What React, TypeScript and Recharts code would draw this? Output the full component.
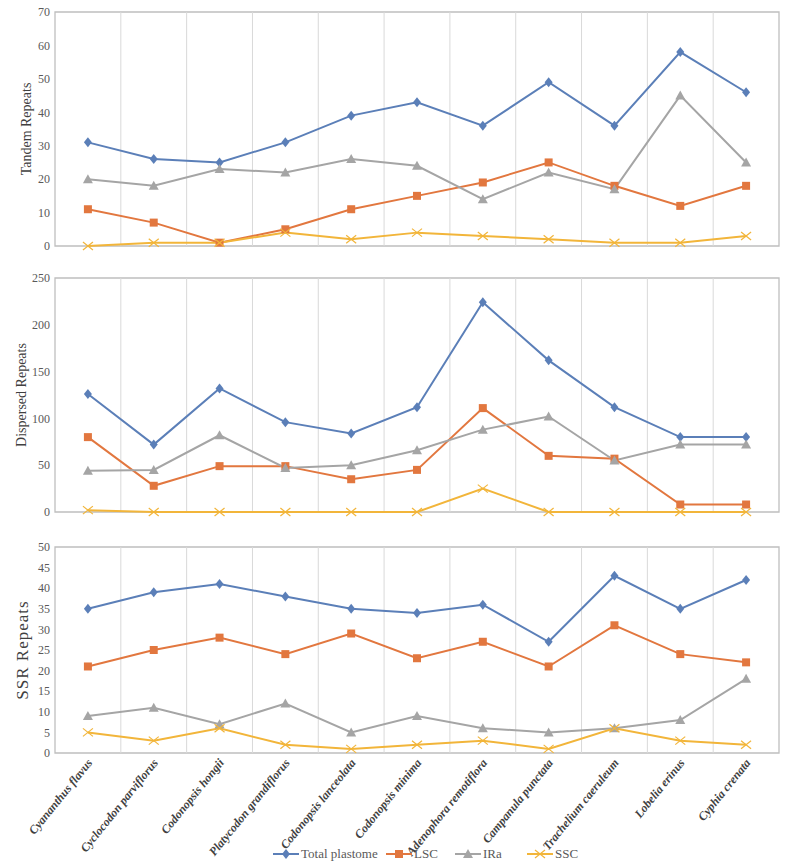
import { LineChart, Line, XAxis, YAxis, ReferenceLine, ReferenceArea, Legend } from "recharts"

const species = [
  "Cyananthus flavus",
  "Cyclocodon parviflorus",
  "Codonopsis hongii",
  "Platycodon grandiflorus",
  "Codonopsis lanceolata",
  "Codonopsis minima",
  "Adenophora remotiflora",
  "Campanula punctata",
  "Trachelium caeruleum",
  "Lobelia erinus",
  "Cyphia crenata",
]

// Tandem repeats
const tandemTotal = [31, 26, 25, 31, 39, 43, 36, 49, 36, 58, 46]
const tandemLSC = [11, 7, 1, 5, 11, 15, 19, 25, 18, 12, 18]
const tandemIRa = [20, 18, 23, 22, 26, 24, 14, 22, 17, 45, 25]
const tandemSSC = [0, 1, 1, 4, 2, 4, 3, 2, 1, 1, 3]

// Dispersed repeats
const dispTotal = [126, 72, 132, 96, 84, 112, 224, 162, 112, 80, 80]
const dispLSC = [80, 28, 49, 49, 35, 45, 111, 60, 57, 8, 8]
const dispIRa = [44, 45, 82, 47, 50, 66, 88, 102, 55, 72, 72]
const dispSSC = [2, 0, 0, 0, 0, 0, 25, 0, 0, 0, 0]

// SSR repeats
const ssrTotal = [35, 39, 41, 38, 35, 34, 36, 27, 43, 35, 42]
const ssrLSC = [21, 25, 28, 24, 29, 23, 27, 21, 31, 24, 22]
const ssrIRa = [9, 11, 7, 12, 5, 9, 6, 5, 6, 8, 18]
const ssrSSC = [5, 3, 6, 2, 1, 2, 3, 1, 6, 3, 2]

const tandemTicks = [0, 10, 20, 30, 40, 50, 60, 70]
const dispTicks = [0, 50, 100, 150, 200, 250]
const ssrTicks = [0, 5, 10, 15, 20, 25, 30, 35, 40, 45, 50]

const series = [
  { key: "total", name: "Total plastome", color: "#5b7fb8", marker: "diamond" },
  { key: "lsc", name: "LSC", color: "#e2773f", marker: "square" },
  { key: "ira", name: "IRa", color: "#a5a5a5", marker: "triangle" },
  { key: "ssc", name: "SSC", color: "#f2b53a", marker: "cross" },
]

const FONT = "Liberation Serif, serif"
const idxTicks = species.map((_, i) => i)
const bounds = species.slice(1).map((_, i) => i + 0.5)

const build = (t: number[], l: number[], r: number[], s: number[]) =>
  species.map((name, i) => ({ idx: i, name, total: t[i], lsc: l[i], ira: r[i], ssc: s[i] }))

const tandemData = build(tandemTotal, tandemLSC, tandemIRa, tandemSSC)
const dispData = build(dispTotal, dispLSC, dispIRa, dispSSC)
const ssrData = build(ssrTotal, ssrLSC, ssrIRa, ssrSSC)

const Marker = ({ kind, cx, cy, color }: any) => {
  if (kind === "diamond")
    return <polygon points={`${cx},${cy - 5} ${cx + 4},${cy} ${cx},${cy + 5} ${cx - 4},${cy}`} fill={color} />
  if (kind === "square") return <rect x={cx - 4} y={cy - 4} width={8} height={8} fill={color} />
  if (kind === "triangle")
    return <polygon points={`${cx},${cy - 5} ${cx + 5},${cy + 4} ${cx - 5},${cy + 4}`} fill={color} />
  return (
    <g stroke={color} strokeWidth={1.2}>
      <line x1={cx - 5} y1={cy - 4} x2={cx + 5} y2={cy + 4} />
      <line x1={cx - 5} y1={cy + 4} x2={cx + 5} y2={cy - 4} />
    </g>
  )
}

const makeDot = (kind: string, color: string) => (props: any) => (
  <Marker key={`${kind}-${props.index}`} kind={kind} cx={props.cx} cy={props.cy} color={color} />
)

const SpeciesTick = ({ x, y, payload }: any) => (
  <g transform={`translate(${x + 5},${y + 8}) rotate(-51)`}>
    <text
      x={0}
      y={0}
      textAnchor="end"
      fontFamily={FONT}
      fontSize={12}
      fontWeight="bold"
      fontStyle="italic"
      fill="#404040"
    >
      {species[payload.value]}
    </text>
  </g>
)

const YLabel = ({ viewBox, value, size, dx, spacing }: any) => {
  const cx = viewBox.x + viewBox.width / 2 + dx
  const cy = viewBox.y + viewBox.height / 2
  return (
    <text
      x={cx}
      y={cy}
      transform={`rotate(-90, ${cx}, ${cy})`}
      textAnchor="middle"
      dominantBaseline="central"
      fontFamily={FONT}
      fontSize={size}
      letterSpacing={spacing}
      fill="#404040"
    >
      {value}
    </text>
  )
}

const legendStarts = [273, 386, 455, 527]

const LegendRow = () => (
  <div style={{ position: "relative", height: 20, width: 800, fontFamily: FONT, fontSize: 13, color: "#595959" }}>
    {series.map((s, i) => (
      <div
        key={s.key}
        style={{ position: "absolute", left: legendStarts[i], top: 0, display: "flex", alignItems: "center", height: 20 }}
      >
        <svg width={26} height={12}>
          <line x1={0} y1={6} x2={26} y2={6} stroke={s.color} strokeWidth={2} />
          <Marker kind={s.marker} cx={13} cy={6} color={s.color} />
        </svg>
        <span style={{ marginLeft: 2 }}>{s.name}</span>
      </div>
    ))}
  </div>
)

const Panel = ({ data, ticks, max, label, labelSize, labelDx, spacing, height, top, bottomAxis }: any) => (
  <LineChart
    width={800}
    height={height}
    data={data}
    margin={{ top, right: 21, left: 8, bottom: bottomAxis ? 0 : 10 }}
    style={{ fontFamily: FONT }}
  >
    <XAxis
      type="number"
      dataKey="idx"
      domain={[-0.5, 10.5]}
      ticks={idxTicks}
      hide={!bottomAxis}
      axisLine={false}
      tickLine={false}
      tickSize={0}
      height={bottomAxis ? 91 : 0}
      interval={0}
      tick={<SpeciesTick />}
    />
    <YAxis
      domain={[0, max]}
      ticks={ticks}
      width={47}
      axisLine={false}
      tickLine={false}
      tickSize={3}
      tickMargin={2}
      interval={0}
      tick={{ fontFamily: FONT, fontSize: 12, fill: "#595959" }}
      label={<YLabel value={label} size={labelSize} dx={labelDx} spacing={spacing} />}
    />
    {bounds.map((b) => (
      <ReferenceLine key={b} x={b} stroke="#d9d9d9" strokeWidth={1} />
    ))}
    <ReferenceArea x1={-0.5} x2={10.5} y1={0} y2={max} fill="none" fillOpacity={0} stroke="#bfbfbf" strokeWidth={1.3} />
    {series.map((s) => (
      <Line
        key={s.key}
        type="linear"
        dataKey={s.key}
        name={s.name}
        stroke={s.color}
        strokeWidth={2}
        dot={makeDot(s.marker, s.color)}
        activeDot={false}
        isAnimationActive={false}
      />
    ))}
    {bottomAxis && (
      <Legend verticalAlign="bottom" height={20} wrapperStyle={{ left: 0, width: 800 }} content={() => <LegendRow />} />
    )}
  </LineChart>
)

export default function App() {
  return (
    <div style={{ position: "absolute", left: 0, top: 0, width: 800, height: 864, background: "#fff", fontFamily: FONT }}>
      <div style={{ position: "absolute", left: 0, top: 0 }}>
        <Panel data={tandemData} ticks={tandemTicks} max={70} label="Tandem Repeats" labelSize={14} labelDx={-5} spacing={0} height={256} top={12} />
      </div>
      <div style={{ position: "absolute", left: 0, top: 260 }}>
        <Panel data={dispData} ticks={dispTicks} max={250} label="Dispersed Repeats" labelSize={14} labelDx={-10} spacing={0} height={262} top={18} />
      </div>
      <div style={{ position: "absolute", left: 0, top: 520 }}>
        <Panel data={ssrData} ticks={ssrTicks} max={50} label="SSR Repeats" labelSize={17} labelDx={-9} spacing={1} height={344} top={27} bottomAxis />
      </div>
    </div>
  )
}
